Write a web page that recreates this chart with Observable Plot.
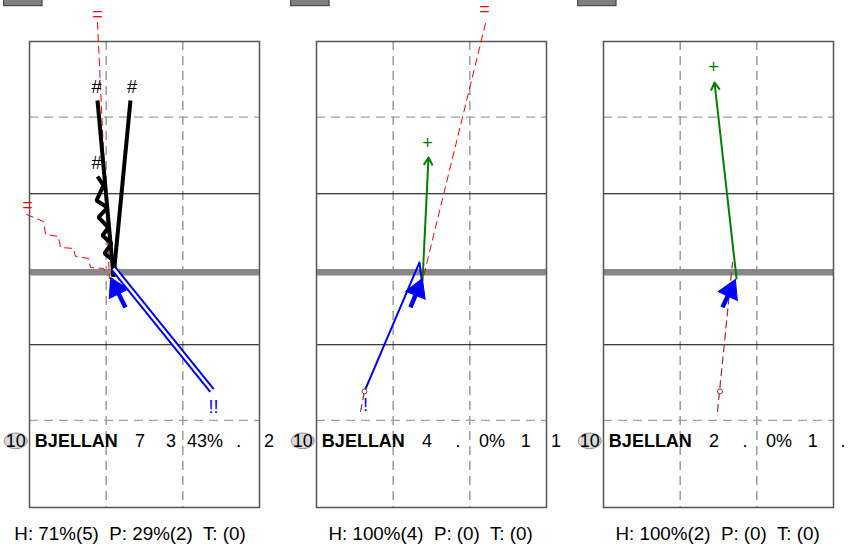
<!DOCTYPE html>
<html>
<head>
<meta charset="utf-8">
<script src="https://cdn.jsdelivr.net/npm/d3@7"></script>
<script src="https://cdn.jsdelivr.net/npm/@observablehq/plot@0.6"></script>
<style>
  html, body { margin: 0; padding: 0; background: #fff; }
</style>
</head>
<body>
<div id="chart"></div>
<script>
// ---------- data ----------
const panels = [0, 1, 2];
const playerNumber = "10";
const playerName = "BJELLAN";
const statValues = [
  ["7", "3", "43%", ".", "2"],
  ["4", ".", "0%", "1", "1"],
  ["2", ".", "0%", "1", "."]
];
const summaries = [
  "H: 71%(5)  P: 29%(2)  T: (0)",
  "H: 100%(4)  P: (0)  T: (0)",
  "H: 100%(2)  P: (0)  T: (0)"
];

// field lines
const vGridDashed = [1, 2];
const hGridDashed = [2.039, -1.951];
const hGridSolid = [1.032, -0.955];
const centerLine = [0];

// tracks (x, y in field units)
const redZigzag = [[-0.039,0.759],[0.183,0.667],[0.209,0.496],[0.378,0.470],[0.404,0.325],[0.574,0.312],[0.600,0.207],[0.770,0.180],[0.796,0.062],[0.965,0.049],[1.017,-0.043]];
const blackZigzag = [[0.887,1.259],[0.965,1.141],[0.874,0.943],[1.017,0.851],[0.900,0.720],[1.030,0.588],[0.952,0.483],[1.070,0.378],[0.978,0.246],[1.096,0.154],[1.096,-0.057]];

const redTracks = [
  {panel: 0, points: [[0.887,3.286],[1.043,-0.083]]},
  {panel: 0, points: redZigzag},
  {panel: 1, points: [[2.204,3.272],[1.396,-0.057]]}
];
const brownTracks = [
  {panel: 1, points: [[0.574,-1.833],[0.626,-1.570]]},
  {panel: 2, points: [[1.487,-1.833],[1.683,0.128]]}
];
const blackTracks = [
  {panel: 0, points: [[0.887,2.259],[1.096,-0.057]]},
  {panel: 0, points: [[1.317,2.259],[1.096,-0.057]]},
  {panel: 0, points: blackZigzag}
];
const blueDoubleTracks = [
  {panel: 0, points: [[1.096,0.049],[2.380,-1.557]]}
];
const blueThinTracks = [
  {panel: 1, points: [[0.626,-1.570],[1.343,0.128],[1.370,-0.083]]}
];
const greenArrows = [
  {panel: 1, x1: 1.383, y1: -0.109, x2: 1.461, y2: 1.509},
  {panel: 2, x1: 1.735, y1: -0.083, x2: 1.448, y2: 2.496}
];
const blueArrows = [
  {panel: 0, x1: 1.252, y1: -0.464, x2: 1.070, y2: -0.096},
  {panel: 1, x1: 1.226, y1: -0.464, x2: 1.370, y2: -0.109},
  {panel: 2, x1: 1.552, y1: -0.464, x2: 1.709, y2: -0.122}
];
const startMarks = [
  {panel: 1, x: 0.626, y: -1.570},
  {panel: 2, x: 1.520, y: -1.570}
];
const annotations = [
  {panel: 0, x: 0.887, y: 3.397, text: "=", color: "#ff0000"},
  {panel: 0, x: -0.026, y: 0.878, text: "=", color: "#ff0000"},
  {panel: 0, x: 0.874, y: 2.430, text: "#", color: "#000000"},
  {panel: 0, x: 1.337, y: 2.430, text: "#", color: "#000000"},
  {panel: 0, x: 0.874, y: 1.430, text: "#", color: "#000000"},
  {panel: 0, x: 2.400, y: -1.780, text: "!!", color: "#0000ff"},
  {panel: 1, x: 2.191, y: 3.457, text: "=", color: "#ff0000"},
  {panel: 1, x: 1.448, y: 1.693, text: "+", color: "#008000"},
  {panel: 1, x: 0.639, y: -1.750, text: "!", color: "#0000ff"},
  {panel: 2, x: 1.435, y: 2.693, text: "+", color: "#008000"}
];

// ---------- layout constants ----------
const W = 848, H = 547;
const mL = 28, mR = 15, mT = 41, mB = 40;
const yMin = -3.097, yMax = 3.0355;
const panelW = 230;
const kx = panelW / 3, ky = (H - mT - mB) / (yMax - yMin);
const rowY = -2.22, captionY = -3.45, captionX = 2.82;
const badgeX = -0.18, nameX = 0.07;
const colX = [1.44, 1.845, 2.29, 2.73, 3.125];

const flat = tracks => tracks.flatMap((t, i) => t.points.map(([x, y]) => ({panel: t.panel, id: i, x, y})));

const heads = blueArrows.map(a => {
  const dx = (a.x2 - a.x1) * kx, dy = -(a.y2 - a.y1) * ky;
  const len = Math.hypot(dx, dy), back = 10;
  return {
    panel: a.panel, x1: a.x1, y1: a.y1,
    x: a.x2 - dx / len * back / kx,
    y: a.y2 + dy / len * back / ky,
    rotate: Math.atan2(dx, -dy) * 180 / Math.PI
  };
});

const ellipse = {
  draw(ctx) {
    const rx = 11.5, ry = 7.8, k = 0.5523;
    ctx.moveTo(rx, 0);
    ctx.bezierCurveTo(rx, ry * k, rx * k, ry, 0, ry);
    ctx.bezierCurveTo(-rx * k, ry, -rx, ry * k, -rx, 0);
    ctx.bezierCurveTo(-rx, -ry * k, -rx * k, -ry, 0, -ry);
    ctx.bezierCurveTo(rx * k, -ry, rx, -ry * k, rx, 0);
    ctx.closePath();
  }
};

const stats = panels.flatMap(p => statValues[p].map((v, j) => ({panel: p, col: j, text: v})));
const font = "'Liberation Sans', Arial, Helvetica, sans-serif";

const chart = Plot.plot({
  width: W, height: H,
  marginLeft: mL, marginRight: mR, marginTop: mT, marginBottom: mB,
  style: `font-family: ${font}; background: #fff; white-space: pre;`,
  fx: {domain: panels, paddingInner: 0.2, paddingOuter: 0, axis: null},
  x: {domain: [0, 3], axis: null},
  y: {domain: [yMin, yMax], axis: null},
  marks: [
    // header boxes (cut off at top)
    Plot.rect(panels, {fx: d => d, x1: () => -0.33, x2: () => 0.17, y1: () => 3.50, y2: () => 3.62, fill: "#808080", stroke: "#333", strokeWidth: 1}),
    // field
    Plot.ruleX(vGridDashed, {stroke: "#8c8c8c", strokeWidth: 1.3, strokeDasharray: "9,6"}),
    Plot.ruleY(hGridDashed, {stroke: "#a0a0a0", strokeWidth: 1.3, strokeDasharray: "9,6"}),
    Plot.ruleY(hGridSolid, {stroke: "#000", strokeWidth: 1.1}),
    Plot.ruleY(centerLine, {stroke: "#888", strokeWidth: 6.5}),
    Plot.frame({stroke: "#555", strokeWidth: 1.5}),
    // tracks
    Plot.line(flat(redTracks), {fx: "panel", x: "x", y: "y", z: "id", stroke: "#ff0000", strokeWidth: 1, strokeDasharray: "7,5"}),
    Plot.line(flat(brownTracks), {fx: "panel", x: "x", y: "y", z: "id", stroke: "#a52a2a", strokeWidth: 1.2, strokeDasharray: "7,5"}),
    Plot.line(flat(blackTracks), {fx: "panel", x: "x", y: "y", z: "id", stroke: "#000", strokeWidth: 4, strokeLinecap: "butt", strokeLinejoin: "miter"}),
    Plot.line(flat(blueDoubleTracks), {fx: "panel", x: "x", y: "y", z: "id", stroke: "#0000ff", strokeWidth: 6.5, strokeLinecap: "butt"}),
    Plot.line(flat(blueDoubleTracks), {fx: "panel", x: "x", y: "y", z: "id", stroke: "#fff", strokeWidth: 2.5, strokeLinecap: "butt"}),
    Plot.line(flat(blueThinTracks), {fx: "panel", x: "x", y: "y", z: "id", stroke: "#0000ff", strokeWidth: 2}),
    Plot.arrow(greenArrows, {fx: "panel", x1: "x1", y1: "y1", x2: "x2", y2: "y2", stroke: "#008000", strokeWidth: 2, headLength: 6}),
    Plot.link(heads, {fx: "panel", x1: "x1", y1: "y1", x2: "x", y2: "y", stroke: "#0000ff", strokeWidth: 4.5, strokeLinecap: "butt"}),
    Plot.dot(heads, {fx: "panel", x: "x", y: "y", rotate: "rotate", symbol: "triangle", r: 7.8, fill: "#0000ff", stroke: "#0000ff", strokeWidth: 1}),
    Plot.dot(startMarks, {fx: "panel", x: "x", y: "y", r: 2.5, fill: "#fff", stroke: "#a52a2a", strokeWidth: 1}),
    Plot.text(annotations, {fx: "panel", x: "x", y: "y", text: "text", fill: "color", fontSize: 18}),
    // player row
    Plot.dot(panels, {fx: d => d, x: () => badgeX, y: () => rowY, symbol: ellipse, fill: "#d9d9d9", stroke: "#8c8c8c", strokeWidth: 1}),
    Plot.text(panels, {fx: d => d, x: () => badgeX, y: () => rowY, text: () => playerNumber, fontSize: 18, fill: "#000"}),
    Plot.text(panels, {fx: d => d, x: () => nameX, y: () => rowY, text: () => playerName, fontSize: 18, fontWeight: "bold", textAnchor: "start", fill: "#000"}),
    Plot.text(stats, {fx: "panel", x: d => colX[d.col], y: () => rowY, text: "text", fontSize: 18, fill: "#000"}),
    // summary captions
    Plot.text(panels, {fx: d => d, x: () => captionX, y: () => captionY, text: d => summaries[d], fontSize: 18.8, textAnchor: "end", fill: "#000"})
  ]
});
document.getElementById("chart").appendChild(chart);
</script>
</body>
</html>
